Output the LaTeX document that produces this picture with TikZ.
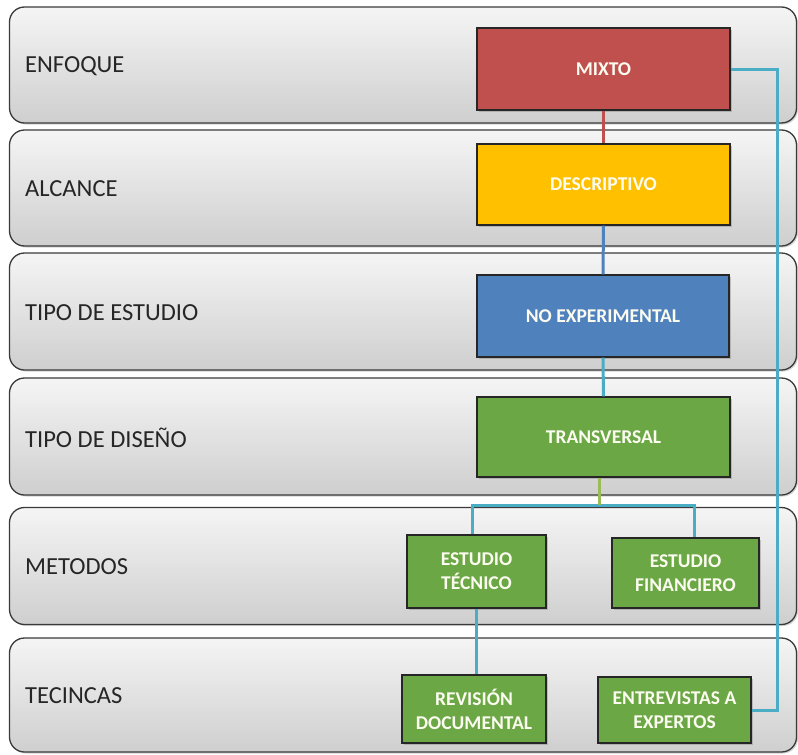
\documentclass[tikz,border=0pt]{standalone}
\usepackage{fontspec}
\setmainfont{Carlito}
\usetikzlibrary{shadows}
\definecolor{cred}{HTML}{C0504D}
\definecolor{cgold}{HTML}{FFC000}
\definecolor{cblue}{HTML}{4F81BD}
\definecolor{cgreen}{HTML}{6BA845}
\definecolor{cteal}{HTML}{4BACC6}
\definecolor{colive}{HTML}{9BBB59}
\definecolor{cedge}{HTML}{3A3A3A}
\definecolor{ctext}{HTML}{FBFBF0}
\tikzset{
  band/.style={draw=cedge, line width=1.3pt, rounded corners=15pt, top color=gray!8, bottom color=gray!38,
    minimum width=787pt, inner sep=0pt, drop shadow={shadow xshift=1.5pt, shadow yshift=-1.5pt, opacity=0.35}},
  lab/.style={anchor=west, font=\fontsize{24.5}{28}\selectfont, text=black!85, inner sep=0pt},
  box/.style={draw=black!85, line width=1.2pt, text=ctext, font=\fontsize{19.5}{24}\bfseries\selectfont,
    align=center, inner sep=0pt, drop shadow={shadow xshift=2pt, shadow yshift=-2pt, opacity=0.4}},
  conn/.style={line width=3pt, draw=cteal},
}
\begin{document}
\begin{tikzpicture}[x=1pt,y=-1pt]
\useasboundingbox (0,0) rectangle (798,755);
% bands
\node[band, minimum height=116pt] (b1) at (403,65) {};
\node[band, minimum height=116pt] (b2) at (403,188) {};
\node[band, minimum height=117pt] (b3) at (403,311.5) {};
\node[band, minimum height=117pt] (b4) at (403,436.5) {};
\node[band, minimum height=117pt] (b5) at (403,566) {};
\node[band, minimum height=114pt] (b6) at (403,695) {};
% labels
\node[lab] (l1) at (25,66) {ENFOQUE};
\node[lab] (l2) at (25,189) {ALCANCE};
\node[lab] (l3) at (25,312.5) {TIPO DE ESTUDIO};
\node[lab] (l4) at (25,437.5) {TIPO DE DISEÑO};
\node[lab] (l5) at (25,567) {METODOS};
\node[lab] (l6) at (25,696) {TECINCAS};
% boxes
\node[box, fill=cred, minimum width=253pt, minimum height=82pt] (mixto) at (603.5,69) {MIXTO};
\node[box, fill=cgold, minimum width=253pt, minimum height=81pt] (desc) at (603.5,184.5) {DESCRIPTIVO};
\node[box, fill=cblue, minimum width=252pt, minimum height=82pt] (noexp) at (603,316) {NO EXPERIMENTAL};
\node[box, fill=cgreen, minimum width=253pt, minimum height=80pt] (trans) at (603.5,437) {TRANSVERSAL};
\node[box, fill=cgreen, minimum width=139pt, minimum height=73pt] (tecnico) at (476.5,571.5) {ESTUDIO\\TÉCNICO};
\node[box, fill=cgreen, minimum width=147pt, minimum height=70pt] (finan) at (685.5,573) {ESTUDIO\\FINANCIERO};
\node[box, fill=cgreen, minimum width=144pt, minimum height=68pt] (revision) at (474,709) {REVISIÓN\\DOCUMENTAL};
\node[box, fill=cgreen, minimum width=153pt, minimum height=66pt] (entrev) at (674.5,710) {ENTREVISTAS A\\EXPERTOS};
% connectors
\coordinate (j) at (599,505);
\coordinate (r) at (777,0);
\draw[line width=3pt, draw=cred] (mixto.south) -- (desc.north);
\draw[line width=3pt, draw=cblue] (desc.south) -- (noexp.north);
\draw[conn] (noexp.south) -- (trans.north);
\draw[conn] ([xshift=-4pt]tecnico.north) |- (j) -| ([xshift=9pt]finan.north);
\draw[line width=3pt, draw=colive] (trans.south -| j) -- (j);
\draw[conn] (tecnico.south) -- (tecnico.south |- revision.north);
\draw[conn] (mixto.east) -- (mixto.east -| r) -- (r |- entrev.east) -- (entrev.east);
\end{tikzpicture}
\end{document}
